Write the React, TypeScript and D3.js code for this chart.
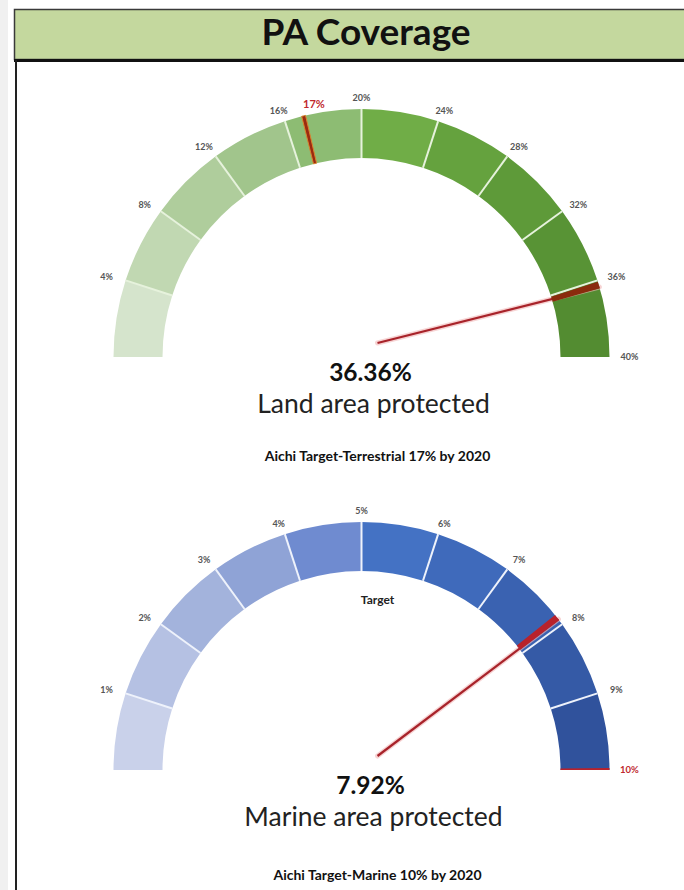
import React from 'react';
import * as d3 from 'd3';

// gauge data
const landTicks = [0, 4, 8, 12, 16, 20, 24, 28, 32, 36, 40];
const landValue = 36.36;
const landTarget = 17;
const landCaption = 'Land area protected';
const landNote = 'Aichi Target-Terrestrial 17% by 2020';

const marineTicks = [0, 1, 2, 3, 4, 5, 6, 7, 8, 9, 10];
const marineValue = 7.92;
const marineTarget = 10;
const marineCaption = 'Marine area protected';
const marineNote = 'Aichi Target-Marine 10% by 2020';

const title = 'PA Coverage';

// palettes (light -> dark)
const greens = ['#d5e4cc', '#c1d8b2', '#afcd9c', '#a1c58c', '#8dbc73', '#70ad47', '#65a23e', '#5e9a39', '#589335', '#538c31'];
const blues = ['#c9d1ea', '#b5c1e3', '#a3b3dc', '#8fa3d6', '#6f8bd0', '#4472c4', '#3f6abb', '#3a62b1', '#355aa6', '#30529c'];

const W = 684;
const H = 890;
const CX = 361.5;
const R_IN = 199;
const R_OUT = 248;
const FONT = 'Lato, "Open Sans", sans-serif';
const pct = (v: number) => `${v}%`;

type GaugeProps = {
  cy: number;
  ticks: number[];
  value: number;
  target: number;
  colors: string[];
  sepColor: string;
  wedgeColor: string;
  targetColor: string;
  targetEdge?: string;
  caption: string;
  note: string;
  noteDy: number;
  innerNote?: string;
};

const Gauge = ({ cy, ticks, value, target, colors, sepColor, wedgeColor, targetColor, targetEdge, caption, note, noteDy, innerNote }: GaugeProps) => {
  const max = d3.max(ticks) as number;
  const angle = d3.scaleLinear().domain([0, max]).range([-Math.PI / 2, Math.PI / 2]);
  const arc = d3.arc<any>().innerRadius(R_IN).outerRadius(R_OUT);
  const pt = (a: number, rx: number, ry: number = rx): [number, number] => [CX + rx * Math.sin(a), cy - ry * Math.cos(a)];

  const segs = ticks.slice(1).map((t, i) => ({ start: ticks[i], end: t, color: colors[i] }));
  const va = angle(value);
  const ta = angle(target);
  const tStart = Math.max(ta - 0.008, -Math.PI / 2);
  const tEnd = Math.min(ta + 0.008, Math.PI / 2);
  // the needle pivot sits a little up and right of the gauge centre, as in the original
  const needleStart: [number, number] = [CX + 16, cy - 14];
  const needleEnd = pt(va, R_OUT);
  const targetInTicks = ticks.includes(target);

  return (
    <g>
      {segs.map((s, i) => (
        <path key={i} transform={`translate(${CX},${cy})`} fill={s.color}
          d={arc({ startAngle: angle(s.start), endAngle: angle(s.end) }) as string} />
      ))}
      {ticks.slice(1, -1).map((t, i) => {
        const a = angle(t);
        const [x1, y1] = pt(a, R_IN);
        const [x2, y2] = pt(a, R_OUT);
        return <line key={i} x1={x1} y1={y1} x2={x2} y2={y2} stroke={sepColor} strokeWidth={2} />;
      })}
      {/* target marker across the band */}
      <path transform={`translate(${CX},${cy})`} fill={targetColor}
        stroke={targetEdge || 'none'} strokeWidth={targetEdge ? 1 : 0}
        d={arc({ startAngle: tStart, endAngle: tEnd }) as string} />
      {/* needle */}
      <line x1={needleStart[0]} y1={needleStart[1]} x2={needleEnd[0]} y2={needleEnd[1]}
        stroke="#f3b9b9" strokeWidth={5} strokeLinecap="round" opacity={0.6} />
      <line x1={needleStart[0]} y1={needleStart[1]} x2={needleEnd[0]} y2={needleEnd[1]}
        stroke="#a8232a" strokeWidth={2.2} />
      <path transform={`translate(${CX},${cy})`} fill={wedgeColor}
        d={arc({ startAngle: va - 0.022, endAngle: va + 0.005 }) as string} />
      {/* tick labels */}
      {ticks.slice(1).map((t, i) => {
        const [x, y] = pt(angle(t), R_OUT + 20, R_OUT + 11);
        const isT = t === target;
        return (
          <text key={i} x={x} y={y + 3} textAnchor="middle" fontFamily={FONT} fontWeight={700}
            fontSize={isT ? 9.5 : 9} fill={isT ? '#c0282d' : '#555'}>{pct(t)}</text>
        );
      })}
      {!targetInTicks && (() => {
        const [x, y] = pt(ta, R_OUT + 20, R_OUT + 11);
        return (
          <text x={x + 15} y={y + 3} textAnchor="middle" fontFamily={FONT} fontWeight={700}
            fontSize={11} fill="#c0282d">{pct(target)}</text>
        );
      })()}
      {innerNote && (
        <text x={CX + 16} y={cy - 166} textAnchor="middle" fontFamily={FONT} fontWeight={700}
          fontSize={12} fill="#222">{innerNote}</text>
      )}
      <text x={CX + 9} y={cy + 24} textAnchor="middle" fontFamily={FONT} fontWeight={700}
        fontSize={24.5} fill="#111">{`${d3.format('.2f')(value)}%`}</text>
      <text x={CX + 12} y={cy + 56} textAnchor="middle" fontFamily={FONT}
        fontSize={26.5} fill="#222">{caption}</text>
      <text x={CX + 16} y={cy + noteDy} textAnchor="middle" fontFamily={FONT} fontWeight={700}
        fontSize={14} fill="#111">{note}</text>
    </g>
  );
};

const App = () => {
  return (
    <svg width={W} height={H} style={{ position: 'absolute', left: 0, top: 0, background: '#fff' }}>
      <rect x={0} y={0} width={8} height={H} fill="#f0f0f0" />
      <rect x={14.5} y={9.5} width={W} height={50} fill="#c4d89e" stroke="#3a3a3a" strokeWidth={1.5} />
      <line x1={14} y1={60.5} x2={W} y2={60.5} stroke="#111" strokeWidth={3} />
      <line x1={16} y1={60} x2={16} y2={H} stroke="#222" strokeWidth={2} />
      <text x={366} y={45} textAnchor="middle" fontFamily={FONT} fontWeight={700} fontSize={37} fill="#111">{title}</text>

      <Gauge cy={357} ticks={landTicks} value={landValue} target={landTarget} colors={greens}
        sepColor="#e6f2dc" wedgeColor="#8a2b0d" targetColor="#9b2a10" targetEdge="#d9832f"
        caption={landCaption} note={landNote} noteDy={104} />
      <Gauge cy={770} ticks={marineTicks} value={marineValue} target={marineTarget} colors={blues}
        sepColor="#eef2fb" wedgeColor="#b8222c" targetColor="#b8222c"
        caption={marineCaption} note={marineNote} noteDy={110} innerNote="Target" />
    </svg>
  );
};

export default App;
